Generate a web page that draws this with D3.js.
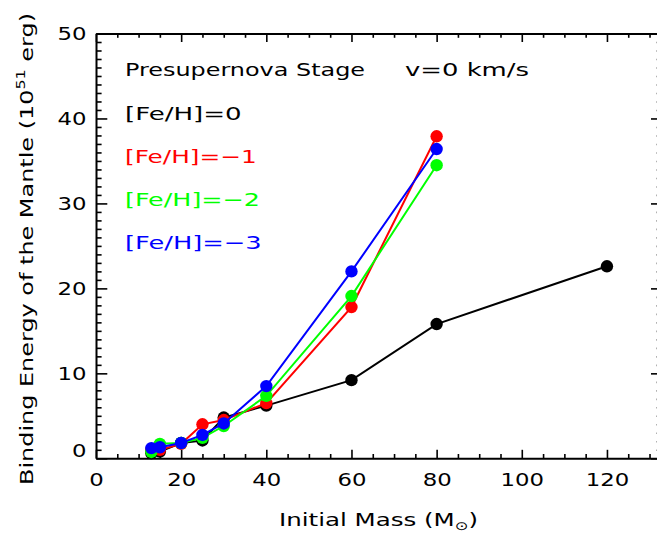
<!DOCTYPE html>
<html>
<head>
<meta charset="utf-8">
<script src="https://cdn.jsdelivr.net/npm/d3@7/dist/d3.min.js"></script>
<style>
  html, body { margin: 0; padding: 0; background: #fff; }
  svg { display: block; }
  text { font-family: "DejaVu Sans", sans-serif; }
</style>
</head>
<body>
<svg id="chart" width="657" height="535"></svg>
<script>
// ---- data ----
const massesSolar = [13, 15, 20, 25, 30, 40, 60, 80, 120];
const massesLow = [13, 15, 20, 25, 30, 40, 60, 80];
const energyFeH0 = [0.6, 0.8, 1.8, 2.1, 4.8, 6.2, 9.2, 15.8, 22.6];
const energyFeHm1 = [1.0, 1.0, 1.7, 4.0, 4.5, 6.5, 17.8, 37.9];
const energyFeHm2 = [0.75, 1.7, 1.8, 2.4, 3.8, 7.35, 19.1, 34.5];
const energyFeHm3 = [1.2, 1.3, 1.8, 2.75, 4.1, 8.5, 22.0, 36.4];
const seriesLabels = ["[Fe/H]=0", "[Fe/H]=\u22121", "[Fe/H]=\u22122", "[Fe/H]=\u22123"];
const seriesColors = ["#000000", "#ff0000", "#00ff00", "#0000ff"];
const xMajorTicks = [0, 20, 40, 60, 80, 100, 120];
const yMajorTicks = [0, 10, 20, 30, 40, 50];
const xDomain = [0, 133];
const yDomain = [0, 50];

const series = [
  { name: seriesLabels[0], color: seriesColors[0], x: massesSolar, y: energyFeH0 },
  { name: seriesLabels[1], color: seriesColors[1], x: massesLow, y: energyFeHm1 },
  { name: seriesLabels[2], color: seriesColors[2], x: massesLow, y: energyFeHm2 },
  { name: seriesLabels[3], color: seriesColors[3], x: massesLow, y: energyFeHm3 }
];

// ---- layout ----
const svg = d3.select("#chart");
const L = 96, R = 662.3, T = 33.5, B = 458.3;
const x = d3.scaleLinear().domain(xDomain).range([L, R]);
const y = d3.scaleLinear().domain(yDomain).range([B, T]);
const FS = 18;

const xMinor = d3.range(0, 134, 5).filter(v => v % 20 !== 0);
const yMinor = d3.range(0, 51, 1).filter(v => v % 10 !== 0);

function styleAxis(g) {
  g.selectAll("path.domain").attr("stroke", "#000").attr("stroke-width", 2);
  g.selectAll(".tick line").attr("stroke", "#000").attr("stroke-width", 1.6);
}

// bottom axis (major with labels)
const gB = svg.append("g").attr("transform", `translate(0,${B})`)
  .call(d3.axisBottom(x).tickValues(xMajorTicks).tickSizeInner(-8.5).tickSizeOuter(0).tickPadding(28).tickFormat(d3.format("d")));
styleAxis(gB);
gB.selectAll("text").attr("font-size", FS).attr("fill", "#000").attr("font-family", "DejaVu Sans")
  .attr("dy", null)
  .attr("textLength", function() { return 14.5 * this.textContent.length; })
  .attr("lengthAdjust", "spacingAndGlyphs");
svg.append("g").attr("transform", `translate(0,${B})`)
  .call(d3.axisBottom(x).tickValues(xMinor).tickSizeInner(-4.3).tickSizeOuter(0).tickFormat(""))
  .call(styleAxis).select("path.domain").remove();

// top axis
const gT = svg.append("g").attr("transform", `translate(0,${T})`)
  .call(d3.axisTop(x).tickValues(xMajorTicks).tickSizeInner(-8.5).tickSizeOuter(0).tickFormat(""));
styleAxis(gT);
svg.append("g").attr("transform", `translate(0,${T})`)
  .call(d3.axisTop(x).tickValues(xMinor).tickSizeInner(-4.3).tickSizeOuter(0).tickFormat(""))
  .call(styleAxis).select("path.domain").remove();

// left axis
const gL = svg.append("g").attr("transform", `translate(${L},0)`)
  .call(d3.axisLeft(y).tickValues(yMajorTicks).tickSizeInner(-11.3).tickSizeOuter(0).tickPadding(9.5).tickFormat(d3.format("d")));
styleAxis(gL);
gL.selectAll("text").attr("font-size", FS).attr("fill", "#000").attr("font-family", "DejaVu Sans")
  .attr("dy", d => d === 0 ? "-0.08em" : "0.34em")
  .attr("textLength", function() { return 14.5 * this.textContent.length; })
  .attr("lengthAdjust", "spacingAndGlyphs");
svg.append("g").attr("transform", `translate(${L},0)`)
  .call(d3.axisLeft(y).tickValues(yMinor).tickSizeInner(-5.6).tickSizeOuter(0).tickFormat(""))
  .call(styleAxis).select("path.domain").remove();

// right axis
const gR = svg.append("g").attr("transform", `translate(${R},0)`)
  .call(d3.axisRight(y).tickValues(yMajorTicks).tickSizeInner(-11.3).tickSizeOuter(0).tickFormat(""));
styleAxis(gR);
svg.append("g").attr("transform", `translate(${R},0)`)
  .call(d3.axisRight(y).tickValues(yMinor).tickSizeInner(-5.6).tickSizeOuter(0).tickFormat(""))
  .call(styleAxis).select("path.domain").remove();

// ---- series ----
const line = d3.line().x(d => x(d[0])).y(d => y(d[1]));
series.forEach(s => {
  const pts = s.x.map((m, i) => [m, s.y[i]]);
  const g = svg.append("g").attr("class", "series");
  g.append("path").datum(pts).attr("d", line)
    .attr("fill", "none").attr("stroke", s.color).attr("stroke-width", 2);
  g.selectAll("circle").data(pts).join("circle")
    .attr("cx", d => x(d[0])).attr("cy", d => y(d[1])).attr("r", 6.2)
    .attr("fill", s.color);
});

// ---- annotation texts ----
function txt(str, tx, ty, len, color) {
  return svg.append("text").attr("x", tx).attr("y", ty).attr("font-size", FS)
    .attr("fill", color || "#000").attr("textLength", len).attr("lengthAdjust", "spacingAndGlyphs")
    .text(str);
}
txt("Presupernova Stage", 125, 76, 240);
txt("v=0 km/s", 405, 76, 124);
const legendY = [120, 162.5, 205.5, 248.5];
const legendW = [116.7, 131.7, 135, 136.7];
series.forEach((s, i) => txt(s.name, 125, legendY[i], legendW[i], s.color));

// x title
const xt = svg.append("text").attr("x", 279).attr("y", 526).attr("font-size", FS).attr("fill", "#000")
  .attr("textLength", 199).attr("lengthAdjust", "spacingAndGlyphs");
xt.append("tspan").text("Initial Mass (M");
xt.append("tspan").attr("font-size", 12).attr("dy", 4).text("\u2299");
xt.append("tspan").attr("dy", -4).text(")");

// y title
const yt = svg.append("text").attr("transform", "translate(33.3,249) rotate(-90)")
  .attr("text-anchor", "middle").attr("font-size", FS).attr("fill", "#000")
  .attr("textLength", 472).attr("lengthAdjust", "spacingAndGlyphs");
yt.append("tspan").text("Binding Energy of the Mantle (10");
yt.append("tspan").attr("font-size", 12).attr("dy", -8).text("51");
yt.append("tspan").attr("dy", 8).text(" erg)");
</script>
</body>
</html>
